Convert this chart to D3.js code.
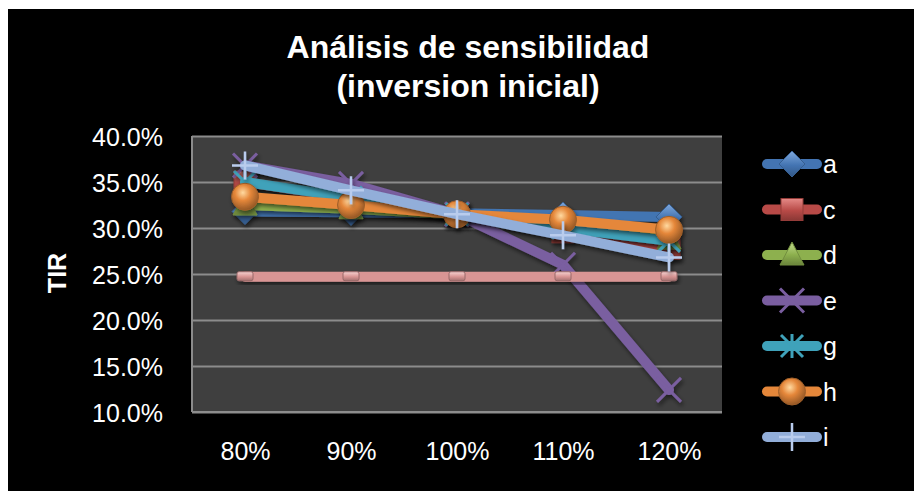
<!DOCTYPE html>
<html>
<head>
<meta charset="utf-8">
<script src="https://cdn.jsdelivr.net/npm/d3@7"></script>
<style>
  html, body { margin: 0; padding: 0; background: #ffffff; }
  svg { display: block; font-family: "Liberation Sans", Arial, sans-serif; }
</style>
</head>
<body>
<svg id="chart" width="914" height="491"></svg>
<script>
// Sensitivity of IRR (TIR) to the initial investment level
const categories = ["80%", "90%", "100%", "110%", "120%"];
const yTicks = [0.10, 0.15, 0.20, 0.25, 0.30, 0.35, 0.40];

const seriesA = [0.318, 0.317, 0.316, 0.314, 0.312];
const seriesC = [0.350, 0.332, 0.315, 0.296, 0.278];
const seriesD = [0.325, 0.321, 0.315, 0.302, 0.288];
const seriesE = [0.368, 0.348, 0.315, 0.260, 0.124];
const seriesF = [0.247, 0.247, 0.247, 0.247, 0.247];
const seriesG = [0.350, 0.333, 0.315, 0.300, 0.286];
const seriesH = [0.334, 0.325, 0.315, 0.309, 0.298];
const seriesI = [0.368, 0.341, 0.315, 0.292, 0.268];

const series = [
  { name: "a", values: seriesA, color: "#4374b2", light: "#7fa8dc", marker: "diamond", legend: true },
  { name: "c", values: seriesC, color: "#b84a47", light: "#e58a87", marker: "square", legend: true },
  { name: "d", values: seriesD, color: "#8db04e", light: "#c2dc8c", marker: "triangle", legend: true },
  { name: "e", values: seriesE, color: "#7a5ea0", light: "#a690c6", marker: "x", legend: true },
  { name: "f", values: seriesF, color: "#d99594", light: "#f6d2d1", marker: "dash", legend: false },
  { name: "g", values: seriesG, color: "#3fa2ba", light: "#7fcde0", marker: "star", legend: true },
  { name: "h", values: seriesH, color: "#e5873a", light: "#ffc27a", marker: "sphere", legend: true },
  { name: "i", values: seriesI, color: "#92aed9", light: "#b9cced", marker: "plus", legend: true }
];

const svg = d3.select("#chart");
const W = 914, H = 491;
const plot = { left: 192, right: 722, top: 136, bottom: 412 };

// chart background (white margin on top/left, black chart area)
svg.append("rect").attr("x", 8).attr("y", 9).attr("width", W - 8).attr("height", H - 9).attr("fill", "#000");

const defs = svg.append("defs");
const shadow = defs.append("filter").attr("id", "shadow")
  .attr("x", "-20%").attr("y", "-20%").attr("width", "140%").attr("height", "160%");
shadow.append("feDropShadow").attr("dx", 1.5).attr("dy", 3).attr("stdDeviation", 2)
  .attr("flood-color", "#000").attr("flood-opacity", 0.55);

series.forEach(s => {
  const lg = defs.append("linearGradient").attr("id", "lg-" + s.name)
    .attr("x1", 0).attr("y1", 0).attr("x2", 0).attr("y2", 1);
  lg.append("stop").attr("offset", "0%").attr("stop-color", s.light);
  lg.append("stop").attr("offset", "55%").attr("stop-color", s.color);
  lg.append("stop").attr("offset", "100%").attr("stop-color", d3.color(s.color).darker(0.8));
  const rg = defs.append("radialGradient").attr("id", "rg-" + s.name)
    .attr("cx", "42%").attr("cy", "35%").attr("r", "65%");
  rg.append("stop").attr("offset", "0%").attr("stop-color", "#ffd9a0");
  rg.append("stop").attr("offset", "45%").attr("stop-color", s.color);
  rg.append("stop").attr("offset", "100%").attr("stop-color", d3.color(s.color).darker(1.2));
});

const x = d3.scalePoint().domain(categories).range([plot.left, plot.right]).padding(0.5);
const y = d3.scaleLinear().domain([0.10, 0.40]).range([plot.bottom, plot.top]);

// plot area
svg.append("rect")
  .attr("x", plot.left).attr("y", plot.top)
  .attr("width", plot.right - plot.left).attr("height", plot.bottom - plot.top)
  .attr("fill", "#3f3f3f");

// gridlines
svg.append("g")
  .attr("transform", `translate(${plot.left},0)`)
  .call(d3.axisLeft(y).tickValues(yTicks).tickSize(-(plot.right - plot.left)).tickFormat(""))
  .call(g => g.select(".domain").remove())
  .call(g => g.selectAll("line").attr("stroke", "#8c8c8c").attr("stroke-width", 2));

// axis lines
svg.append("line").attr("x1", plot.left).attr("x2", plot.left)
  .attr("y1", plot.top).attr("y2", plot.bottom).attr("stroke", "#8c8c8c").attr("stroke-width", 2);
svg.append("line").attr("x1", plot.left).attr("x2", plot.right)
  .attr("y1", plot.bottom).attr("y2", plot.bottom).attr("stroke", "#8c8c8c").attr("stroke-width", 2);

// y tick labels
svg.append("g")
  .attr("transform", `translate(${plot.left - 26},0)`)
  .call(d3.axisLeft(y).tickValues(yTicks).tickSize(0).tickFormat(d3.format(".1%")))
  .call(g => g.select(".domain").remove())
  .call(g => g.selectAll("text")
    .attr("fill", "#fff").attr("font-size", 25)
    .attr("font-family", "'Liberation Sans', Arial, sans-serif")
    .attr("dx", 0).attr("dy", "0.36em"));

// x tick labels
svg.append("g")
  .attr("transform", `translate(0,${plot.bottom})`)
  .call(d3.axisBottom(x).tickSize(0))
  .call(g => g.select(".domain").remove())
  .call(g => g.selectAll("text")
    .attr("fill", "#fff").attr("font-size", 25)
    .attr("font-family", "'Liberation Sans', Arial, sans-serif")
    .attr("y", 0).attr("dy", 0).attr("transform", "translate(0,48)"));

// titles
svg.append("text").attr("x", 468).attr("y", 58).attr("text-anchor", "middle")
  .attr("fill", "#fff").attr("font-size", 32).attr("font-weight", "bold")
  .text("Análisis de sensibilidad");
svg.append("text").attr("x", 468).attr("y", 97).attr("text-anchor", "middle")
  .attr("fill", "#fff").attr("font-size", 32).attr("font-weight", "bold")
  .text("(inversion inicial)");
svg.append("text")
  .attr("transform", `translate(66,${(plot.top + plot.bottom) / 2 - 1}) rotate(-90)`)
  .attr("text-anchor", "middle").attr("fill", "#fff")
  .attr("font-size", 25).attr("font-weight", "bold").text("TIR");

// marker drawing
function drawMarker(g, s, cx, cy) {
  const fill = `url(#lg-${s.name})`;
  const dark = d3.color(s.color).darker(0.6);
  switch (s.marker) {
    case "diamond":
      g.append("path").attr("d", `M${cx},${cy - 13}L${cx + 13},${cy}L${cx},${cy + 13}L${cx - 13},${cy}Z`)
        .attr("fill", fill).attr("stroke", dark).attr("stroke-width", 1);
      break;
    case "square":
      g.append("rect").attr("x", cx - 11).attr("y", cy - 11).attr("width", 22).attr("height", 22)
        .attr("fill", fill).attr("stroke", dark).attr("stroke-width", 1);
      break;
    case "triangle":
      g.append("path").attr("d", `M${cx},${cy - 13}L${cx + 12},${cy + 10}L${cx - 12},${cy + 10}Z`)
        .attr("fill", fill).attr("stroke", dark).attr("stroke-width", 1);
      break;
    case "x":
      g.append("path").attr("d", `M${cx - 12},${cy - 12}L${cx + 12},${cy + 12}M${cx + 12},${cy - 12}L${cx - 12},${cy + 12}`)
        .attr("stroke", s.color).attr("stroke-width", 3);
      break;
    case "star":
      g.append("path").attr("d",
        `M${cx - 11},${cy - 11}L${cx + 11},${cy + 11}M${cx + 11},${cy - 11}L${cx - 11},${cy + 11}M${cx},${cy - 12}L${cx},${cy + 12}`)
        .attr("stroke", s.color).attr("stroke-width", 3);
      break;
    case "sphere":
      g.append("circle").attr("cx", cx).attr("cy", cy).attr("r", 13.5)
        .attr("fill", `url(#rg-${s.name})`).attr("stroke", d3.color(s.color).darker(1)).attr("stroke-width", 1);
      break;
    case "plus":
      g.append("path").attr("d", `M${cx - 13},${cy}L${cx + 13},${cy}M${cx},${cy - 14}L${cx},${cy + 14}`)
        .attr("stroke", s.light).attr("stroke-width", 2.5);
      break;
    case "dash":
      g.append("rect").attr("x", cx - 8).attr("y", cy - 5).attr("width", 16).attr("height", 9).attr("rx", 2)
        .attr("fill", fill).attr("stroke", d3.color(s.color).darker(1)).attr("stroke-width", 1);
      break;
  }
}

const line = d3.line().x((d, i) => x(categories[i])).y(d => y(d));

const clip = defs.append("clipPath").attr("id", "plotclip");
clip.append("rect").attr("x", plot.left).attr("y", plot.top - 20)
  .attr("width", plot.right - plot.left + 10).attr("height", plot.bottom - plot.top + 20);

const marks = svg.append("g").attr("clip-path", "url(#plotclip)");
series.forEach(s => {
  const g = marks.append("g").attr("filter", "url(#shadow)");
  g.append("path").datum(s.values).attr("d", line)
    .attr("fill", "none").attr("stroke", s.color).attr("stroke-width", 10)
    .attr("stroke-linecap", "round").attr("stroke-linejoin", "round");
  s.values.forEach((v, i) => drawMarker(g, s, x(categories[i]), y(v)));
});

// legend
const legendItems = series.filter(s => s.legend);
const legend = svg.append("g");
legendItems.forEach((s, i) => {
  const cy = 164 + i * 45.5;
  const g = legend.append("g");
  g.append("line").attr("x1", 767).attr("x2", 817).attr("y1", cy).attr("y2", cy)
    .attr("stroke", s.color).attr("stroke-width", 10).attr("stroke-linecap", "round");
  drawMarker(g, s, 792, cy);
  g.append("text").attr("x", 823).attr("y", cy).attr("dy", "0.36em")
    .attr("fill", "#fff").attr("font-size", 25).text(s.name);
});
</script>
</body>
</html>
